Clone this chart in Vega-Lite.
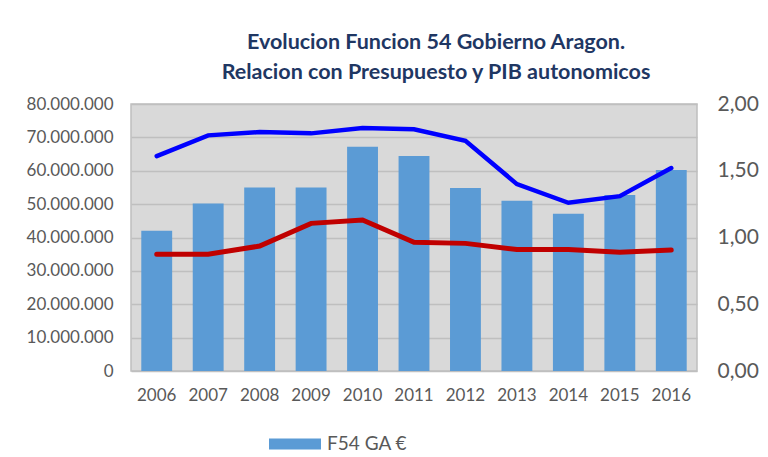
{
  "$schema": "https://vega.github.io/schema/vega-lite/v6.json",
  "autosize": "none",
  "width": 566,
  "height": 267,
  "padding": {"left": 131, "top": 104, "right": 71, "bottom": 86},
  "background": "white",
  "config": {
    "locale": {"number": {"decimal": ",", "thousands": ".", "grouping": [3], "currency": ["", " €"]}},
    "font": "Lato",
    "view": {"fill": "#D9D9D9", "stroke": "#BFBFBF", "strokeWidth": 1.5},
    "axis": {"labelFont": "Lato", "labelColor": "#595959", "ticks": false, "domain": false, "title": null, "gridColor": "#BFBFBF", "gridWidth": 1.5, "labelOverlap": false, "labelBound": false}
  },
  "title": {
    "text": ["Evolucion Funcion 54 Gobierno Aragon.", "Relacion con Presupuesto y PIB autonomicos"],
    "font": "Lato", "fontSize": 21.5, "fontWeight": "bold", "color": "#1F3763",
    "anchor": "middle", "dx": 22, "offset": 10, "lineHeight": 30
  },
  "data": {"values": [
    {"year": "2006", "f54": 42000000, "rel_pres": 1.61, "rel_pib": 0.875},
    {"year": "2007", "f54": 50200000, "rel_pres": 1.765, "rel_pib": 0.875},
    {"year": "2008", "f54": 55000000, "rel_pres": 1.79, "rel_pib": 0.936},
    {"year": "2009", "f54": 55000000, "rel_pres": 1.78, "rel_pib": 1.106},
    {"year": "2010", "f54": 67200000, "rel_pres": 1.82, "rel_pib": 1.131},
    {"year": "2011", "f54": 64400000, "rel_pres": 1.81, "rel_pib": 0.964},
    {"year": "2012", "f54": 54800000, "rel_pres": 1.725, "rel_pib": 0.956},
    {"year": "2013", "f54": 51000000, "rel_pres": 1.40, "rel_pib": 0.91},
    {"year": "2014", "f54": 47100000, "rel_pres": 1.26, "rel_pib": 0.91},
    {"year": "2015", "f54": 52700000, "rel_pres": 1.31, "rel_pib": 0.89},
    {"year": "2016", "f54": 60200000, "rel_pres": 1.52, "rel_pib": 0.906}
  ]},
  "encoding": {
    "x": {"field": "year", "type": "ordinal", "scale": {"paddingInner": 0.4, "paddingOuter": 0.2},
      "axis": {"labelAngle": 0, "labelFontSize": 17, "labelPadding": 16, "grid": false}}
  },
  "layer": [
    {
      "mark": {"type": "bar", "color": "#5B9BD5"},
      "encoding": {
        "y": {"field": "f54", "type": "quantitative", "scale": {"domain": [0, 80000000]},
          "axis": {"orient": "left", "format": ",d", "values": [0,10000000,20000000,30000000,40000000,50000000,60000000,70000000,80000000], "labelFontSize": 17, "labelPadding": 18, "grid": true}},
        "color": {"datum": "F54 GA €", "type": "nominal",
          "scale": {"domain": ["F54 GA €"], "range": ["#5B9BD5"]},
          "legend": {"title": null, "orient": "none", "legendX": 138, "legendY": 314, "symbolType": "M-1,-0.21H1V0.21H-1Z", "symbolSize": 2704, "symbolStrokeWidth": 0, "symbolOpacity": 1, "labelFontSize": 19, "labelOffset": 6, "labelColor": "#595959", "labelFont": "Lato"}}
      }
    },
    {
      "layer": [
        {
          "mark": {"type": "line", "color": "#0000FF", "strokeWidth": 4.5, "strokeCap": "round"},
          "encoding": {
            "y": {"field": "rel_pres", "type": "quantitative", "scale": {"domain": [0, 2]},
              "axis": {"orient": "right", "format": ".2f", "values": [0, 0.5, 1, 1.5, 2], "labelFontSize": 21, "labelPadding": 20, "grid": false}}
          }
        },
        {
          "mark": {"type": "line", "color": "#C00000", "strokeWidth": 5, "strokeCap": "round"},
          "encoding": {
            "y": {"field": "rel_pib", "type": "quantitative", "scale": {"domain": [0, 2]}}
          }
        }
      ]
    }
  ],
  "resolve": {"scale": {"y": "independent"}}
}
